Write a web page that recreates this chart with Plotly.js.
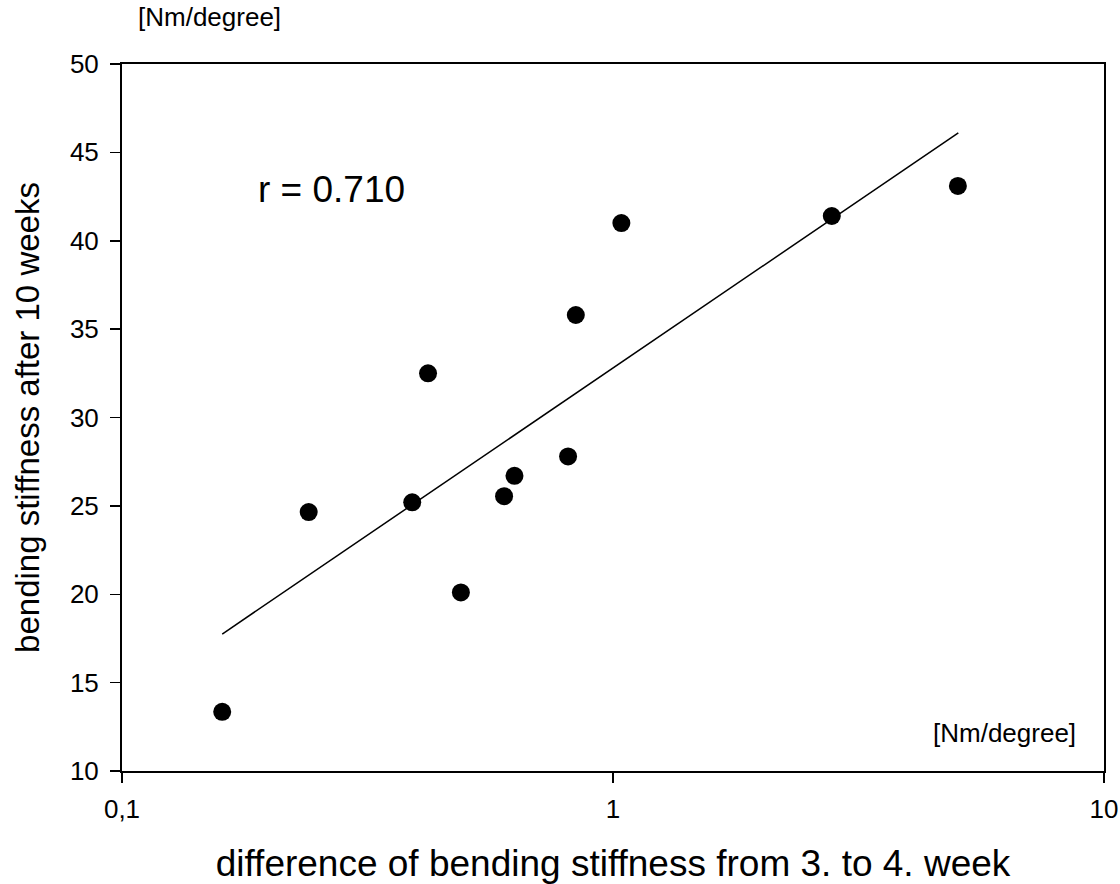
<!DOCTYPE html>
<html>
<head>
<meta charset="utf-8">
<script src="https://cdn.plot.ly/plotly-3.0.1.min.js"></script>
<style>html,body{margin:0;padding:0;background:#fff;}#chart{width:1120px;height:884px;}</style>
</head>
<body>
<div id="chart"></div>
<script>
// Data
const diffStiffness = [0.16, 0.24, 0.39, 0.42, 0.49, 0.60, 0.63, 0.81, 0.84, 1.04, 2.79, 5.04];
const stiffness10w  = [13.35, 24.65, 25.2, 32.5, 20.1, 25.55, 26.7, 27.8, 35.8, 41.0, 41.4, 43.1];
// Regression line (endpoints as drawn)
const fitX = [0.16, 5.05];
const fitY = [17.75, 46.1];
const xTickVals = [0.1, 1, 10];
const xTickText = ["0,1", "1", "10"];
const rLabel = "r = 0.710";
const unitLabel = "[Nm/degree]";

const font = "Liberation Sans, Arial, sans-serif";

const traces = [
  {x: fitX, y: fitY, mode: "lines", type: "scatter",
   line: {color: "#000", width: 1.5}, hoverinfo: "skip", showlegend: false},
  {x: diffStiffness, y: stiffness10w, mode: "markers", type: "scatter",
   marker: {color: "#000", size: 18}, showlegend: false}
];

const layout = {
  width: 1120, height: 884,
  margin: {l: 122, r: 16, t: 64, b: 113},
  paper_bgcolor: "#fff", plot_bgcolor: "#fff",
  font: {family: font, color: "#000", size: 26},
  showlegend: false,
  xaxis: {
    type: "log", range: [-1, 1],
    tickvals: xTickVals, ticktext: xTickText,
    ticks: "outside", ticklen: 10, tickwidth: 1.5, tickcolor: "#000",
    showline: true, linecolor: "#000", linewidth: 2, mirror: true,
    showgrid: false, zeroline: false,
    ticklabelstandoff: 4,
    tickfont: {size: 26, family: font},
    title: {text: "difference of bending stiffness from 3. to 4. week", font: {size: 37, family: font}, standoff: 32}
  },
  yaxis: {
    range: [10, 50], dtick: 5, tick0: 10,
    ticks: "outside", ticklen: 10, tickwidth: 1.5, tickcolor: "#000",
    showline: true, linecolor: "#000", linewidth: 2, mirror: true,
    showgrid: false, zeroline: false,
    ticklabelstandoff: 6,
    tickfont: {size: 26, family: font},
    title: {text: "bending stiffness after 10 weeks", font: {size: 33, family: font}, standoff: 20}
  },
  annotations: [
    {text: unitLabel, xref: "paper", yref: "paper", x: 0.089, y: 1.0, yshift: 47,
     showarrow: false, xanchor: "center", yanchor: "middle", font: {size: 26, family: font}},
    {text: unitLabel, xref: "paper", yref: "paper", x: 0.974, y: 0.054,
     showarrow: false, xanchor: "right", yanchor: "middle", font: {size: 26, family: font}},
    {text: rLabel, xref: "paper", yref: "paper", x: 0.136, y: 0.823,
     showarrow: false, xanchor: "left", yanchor: "middle", font: {size: 37, family: font}}
  ]
};

Plotly.newPlot("chart", traces, layout, {displayModeBar: false, staticPlot: true});
</script>
</body>
</html>
